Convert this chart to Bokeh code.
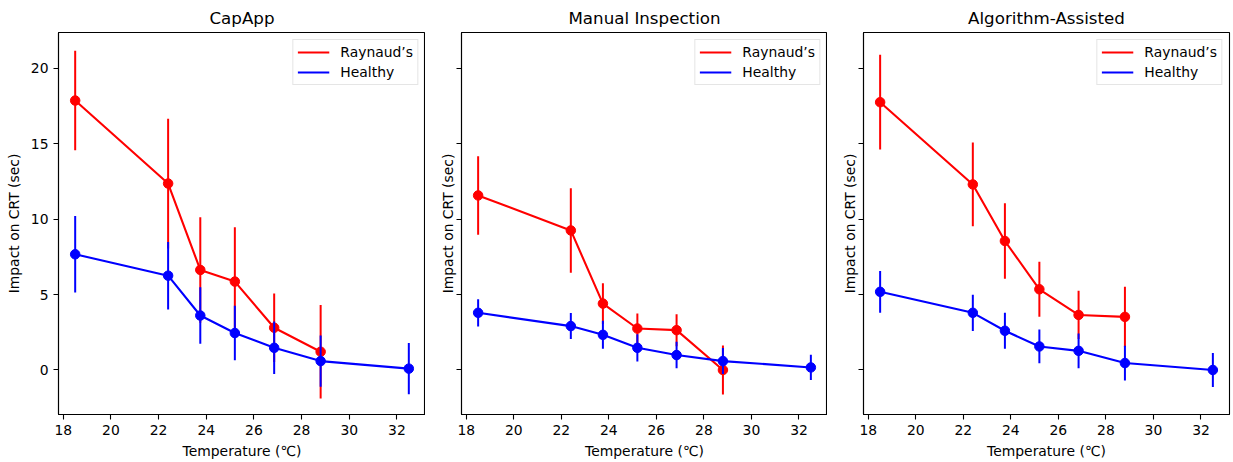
from bokeh.plotting import figure
from bokeh.layouts import row
from bokeh.models import ColumnDataSource, Range1d, FixedTicker, Legend, LegendItem
from bokeh.embed import file_html
from bokeh.resources import INLINE

# ---- data ----
temps_raynaud = [18.5, 22.4, 23.75, 25.2, 26.85, 28.8]
temps_healthy = [18.5, 22.4, 23.75, 25.2, 26.85, 28.8, 32.5]

panel_titles = ["CapApp", "Manual Inspection", "Algorithm-Assisted"]

capapp_raynaud = [17.86, 12.36, 6.63, 5.86, 2.80, 1.21]
capapp_raynaud_err = [3.3, 4.3, 3.5, 3.6, 2.27, 3.1]
capapp_healthy = [7.67, 6.25, 3.61, 2.45, 1.47, 0.59, 0.09]
capapp_healthy_err = [2.53, 2.24, 1.87, 1.8, 1.74, 1.7, 1.7]

manual_raynaud = [11.57, 9.25, 4.40, 2.75, 2.64, 0.0]
manual_raynaud_err = [2.6, 2.8, 1.35, 1.0, 1.06, 1.63]
manual_healthy = [3.79, 2.91, 2.33, 1.47, 0.99, 0.59, 0.17]
manual_healthy_err = [0.9, 0.86, 0.93, 0.9, 0.88, 0.86, 0.84]

algo_raynaud = [17.75, 12.3, 8.55, 5.35, 3.65, 3.52]
algo_raynaud_err = [3.14, 2.78, 2.5, 1.82, 1.6, 2.0]
algo_healthy = [5.18, 3.79, 2.60, 1.56, 1.27, 0.46, 0.0]
algo_healthy_err = [1.38, 1.2, 1.19, 1.12, 1.15, 1.15, 1.12]

x_ticks = [18, 20, 22, 24, 26, 28, 30, 32]
y_ticks = [0, 5, 10, 15, 20]
series_names = ["Raynaud\u2019s", "Healthy"]
series_colors = ["red", "blue"]

panels = [
    (capapp_raynaud, capapp_raynaud_err, capapp_healthy, capapp_healthy_err),
    (manual_raynaud, manual_raynaud_err, manual_healthy, manual_healthy_err),
    (algo_raynaud, algo_raynaud_err, algo_healthy, algo_healthy_err),
]

FONT = "DejaVu Sans"
figs = []
for i, (title, (r, re, h, he)) in enumerate(zip(panel_titles, panels)):
    width = 425 if i == 0 else (402 if i == 1 else 406)
    p = figure(width=width, height=462, output_backend="svg", toolbar_location=None,
               x_range=Range1d(17.8, 33.2), y_range=Range1d(-2.95, 22.37),
               min_border_left=58 if i == 0 else 36, min_border_right=4 if i == 2 else 0,
               min_border_top=31, min_border_bottom=48, title=title)
    p.title.align = "center"
    p.title.text_font = FONT
    p.title.text_font_size = "16.7px"
    p.title.text_font_style = "normal"
    p.title.text_color = "black"
    p.outline_line_color = "black"
    p.outline_line_width = 1.1
    p.xgrid.visible = False
    p.ygrid.visible = False
    p.background_fill_color = "white"
    p.border_fill_color = "white"

    for ax in (p.xaxis[0], p.yaxis[0]):
        ax.major_tick_out = 5
        ax.major_tick_in = 0
        ax.minor_tick_out = 0
        ax.minor_tick_in = 0
        ax.axis_line_color = "black"
        ax.axis_line_width = 1.1
        ax.major_tick_line_width = 1.1
        ax.major_label_text_font = FONT
        ax.major_label_text_font_size = "13.9px"
        ax.major_label_text_color = "black"
        ax.axis_label_text_font = FONT
        ax.axis_label_text_font_size = "13.9px"
        ax.axis_label_text_font_style = "normal"
        ax.axis_label_text_color = "black"
    p.xaxis.ticker = FixedTicker(ticks=x_ticks)
    p.yaxis.ticker = FixedTicker(ticks=y_ticks)
    p.xaxis.axis_label = "Temperature (\u2103)"
    p.yaxis.axis_label = "Impact on CRT (sec)"
    p.xaxis.major_label_standoff = 5
    p.xaxis.axis_label_standoff = 5
    if i == 0:
        p.yaxis.major_label_standoff = 5
        p.yaxis.axis_label_standoff = 6
    else:
        p.yaxis.major_label_overrides = {t: "" for t in y_ticks}
        p.yaxis.major_label_standoff = 0
        p.yaxis.axis_label_standoff = 1

    items = []
    for xs, ys, es, name, color in ((temps_raynaud, r, re, series_names[0], series_colors[0]),
                                    (temps_healthy, h, he, series_names[1], series_colors[1])):
        src = ColumnDataSource(dict(x=xs, y=ys,
                                    lo=[a - b for a, b in zip(ys, es)],
                                    hi=[a + b for a, b in zip(ys, es)]))
        p.segment(x0="x", y0="lo", x1="x", y1="hi", source=src, line_color=color, line_width=2)
        ln = p.line("x", "y", source=src, line_color=color, line_width=2.1)
        p.scatter("x", "y", source=src, size=9.5, fill_color=color, line_color=color)
        items.append(LegendItem(label=name, renderers=[ln]))

    legend = Legend(items=items, location="top_right", margin=7, padding=4, spacing=4,
                    glyph_width=32, glyph_height=14, label_height=14, label_standoff=11,
                    label_text_font=FONT, label_text_font_size="13.9px",
                    label_text_color="black", border_line_color="#cccccc",
                    border_line_width=1, background_fill_alpha=0.8)
    p.add_layout(legend, "center")
    figs.append(p)

layout = row(*figs, spacing=0)
open("out.html", "w").write(file_html(layout, INLINE))
